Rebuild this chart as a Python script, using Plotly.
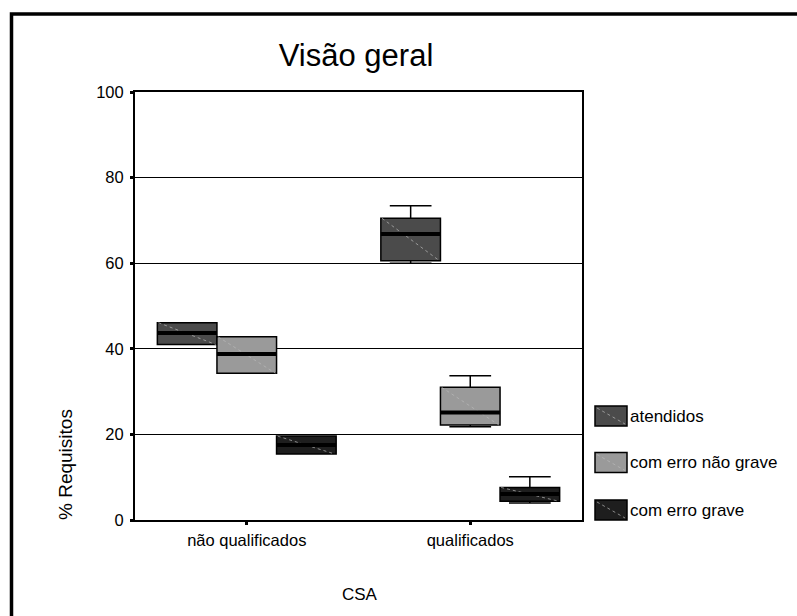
import plotly.graph_objects as go

# Groups on the x axis and the three requirement categories
groups = ["não qualificados", "qualificados"]
series = ["atendidos", "com erro não grave", "com erro grave"]
colors = ["#4b4b4b", "#9a9a9a", "#1e1e1e"]

# Box statistics per series: one value per group
lower = {
    "atendidos": [41.0, 60.0],
    "com erro não grave": [34.3, 21.8],
    "com erro grave": [15.4, 4.0],
}
q1 = {
    "atendidos": [41.0, 60.6],
    "com erro não grave": [34.3, 22.2],
    "com erro grave": [15.4, 4.4],
}
median = {
    "atendidos": [43.7, 66.8],
    "com erro não grave": [38.8, 25.1],
    "com erro grave": [17.5, 6.1],
}
q3 = {
    "atendidos": [46.1, 70.5],
    "com erro não grave": [42.8, 31.0],
    "com erro grave": [19.6, 7.6],
}
upper = {
    "atendidos": [46.1, 73.4],
    "com erro não grave": [42.8, 33.7],
    "com erro grave": [19.6, 10.1],
}
y_ticks = [0, 20, 40, 60, 80, 100]

FONT = "Liberation Sans, Arial, sans-serif"
W, H = 797, 616
L, R, T, B = 135, 215, 92, 96
PW, PH = W - L - R, H - T - B


def px_x(px):
    return (px - L) / PW


def px_y(py):
    return (H - B - py) / PH


group_span = 0.8
bw = group_span / len(series)
centers = list(range(len(groups)))

fig = go.Figure()

for i, s in enumerate(series):
    off = -group_span / 2 + bw * (i + 0.5)
    xs = [c + off for c in centers]
    fig.add_trace(go.Box(
        x=xs, q1=q1[s], median=median[s], q3=q3[s],
        lowerfence=lower[s], upperfence=upper[s],
        width=bw, whiskerwidth=0.7,
        fillcolor=colors[i],
        line=dict(color="black", width=1.5),
        name=s, showlegend=False, hoverinfo="skip",
    ))

for i, s in enumerate(series):
    off = -group_span / 2 + bw * (i + 0.5)
    dx, dy, mx, my = [], [], [], []
    for j, c in enumerate(centers):
        x0, x1 = c + off - bw / 2, c + off + bw / 2
        # faint diagonal across the box face
        dx += [x0 + 0.005, x1 - 0.005, None]
        dy += [q3[s][j], q1[s][j], None]
        # heavy median bar
        mx += [x0, x1, None]
        my += [median[s][j], median[s][j], None]
    fig.add_trace(go.Scatter(
        x=dx, y=dy, mode="lines",
        line=dict(color="rgba(185,185,185,0.7)", width=1, dash="dot"),
        showlegend=False, hoverinfo="skip",
    ))
    fig.add_trace(go.Scatter(
        x=mx, y=my, mode="lines",
        line=dict(color="black", width=4),
        showlegend=False, hoverinfo="skip",
    ))

shapes = []
# outer frame around the whole chart
shapes.append(dict(type="rect", xref="paper", yref="paper",
                   x0=px_x(11.5), x1=px_x(W + 40), y0=px_y(H + 40), y1=px_y(14),
                   line=dict(color="black", width=3.5), layer="above"))

annotations = []
legend_rows = [416, 462.5, 510]
for i, s in enumerate(series):
    yc = legend_rows[i]
    x0, x1 = 595, 627
    y0, y1 = yc - 10, yc + 10
    shapes.append(dict(type="rect", xref="paper", yref="paper",
                       x0=px_x(x0), x1=px_x(x1), y0=px_y(y1), y1=px_y(y0),
                       fillcolor=colors[i], line=dict(color="black", width=1.5)))
    shapes.append(dict(type="line", xref="paper", yref="paper",
                       x0=px_x(x0 + 2), x1=px_x(x1 - 2), y0=px_y(y0 + 2), y1=px_y(y1 - 2),
                       line=dict(color="rgba(185,185,185,0.7)", width=1, dash="dot")))
    annotations.append(dict(xref="paper", yref="paper", x=px_x(628), y=px_y(yc),
                            xanchor="left", yanchor="middle", showarrow=False,
                            text=s, font=dict(family=FONT, size=17, color="black")))

annotations.append(dict(xref="paper", yref="paper", x=px_x(65), y=px_y(465),
                        xanchor="center", yanchor="middle", textangle=-90,
                        showarrow=False, text="% Requisitos",
                        font=dict(family=FONT, size=19, color="black")))
annotations.append(dict(xref="paper", yref="paper", x=px_x(360), y=px_y(594),
                        xanchor="center", yanchor="middle", showarrow=False,
                        text="CSA", font=dict(family=FONT, size=17, color="black")))

fig.update_layout(
    width=W, height=H,
    margin=dict(l=L, r=R, t=T, b=B, pad=0),
    paper_bgcolor="white", plot_bgcolor="white",
    boxmode="overlay",
    title=dict(text="Visão geral", x=356 / W, xanchor="center",
               y=1 - 55 / H, yanchor="middle",
               font=dict(family=FONT, size=31, color="black")),
    font=dict(family=FONT, size=16.5, color="black"),
    shapes=shapes, annotations=annotations,
    showlegend=False,
)
fig.update_xaxes(
    range=[-0.5, len(groups) - 0.5], tickvals=centers, ticktext=groups,
    showgrid=False, zeroline=False,
    showline=True, linecolor="black", linewidth=2, mirror=True,
    ticks="outside", ticklen=3, tickwidth=3, tickcolor="black",
    ticklabelstandoff=1,
    tickfont=dict(family=FONT, size=16.5, color="black"),
)
fig.update_yaxes(
    range=[0, 100], tickvals=y_ticks,
    showgrid=True, gridcolor="black", gridwidth=1.3, zeroline=False,
    showline=True, linecolor="black", linewidth=2, mirror=True,
    ticks="outside", ticklen=3, tickwidth=3, tickcolor="black",
    ticklabelstandoff=3,
    tickfont=dict(family=FONT, size=16.5, color="black"),
)

fig.write_html("out.html")
